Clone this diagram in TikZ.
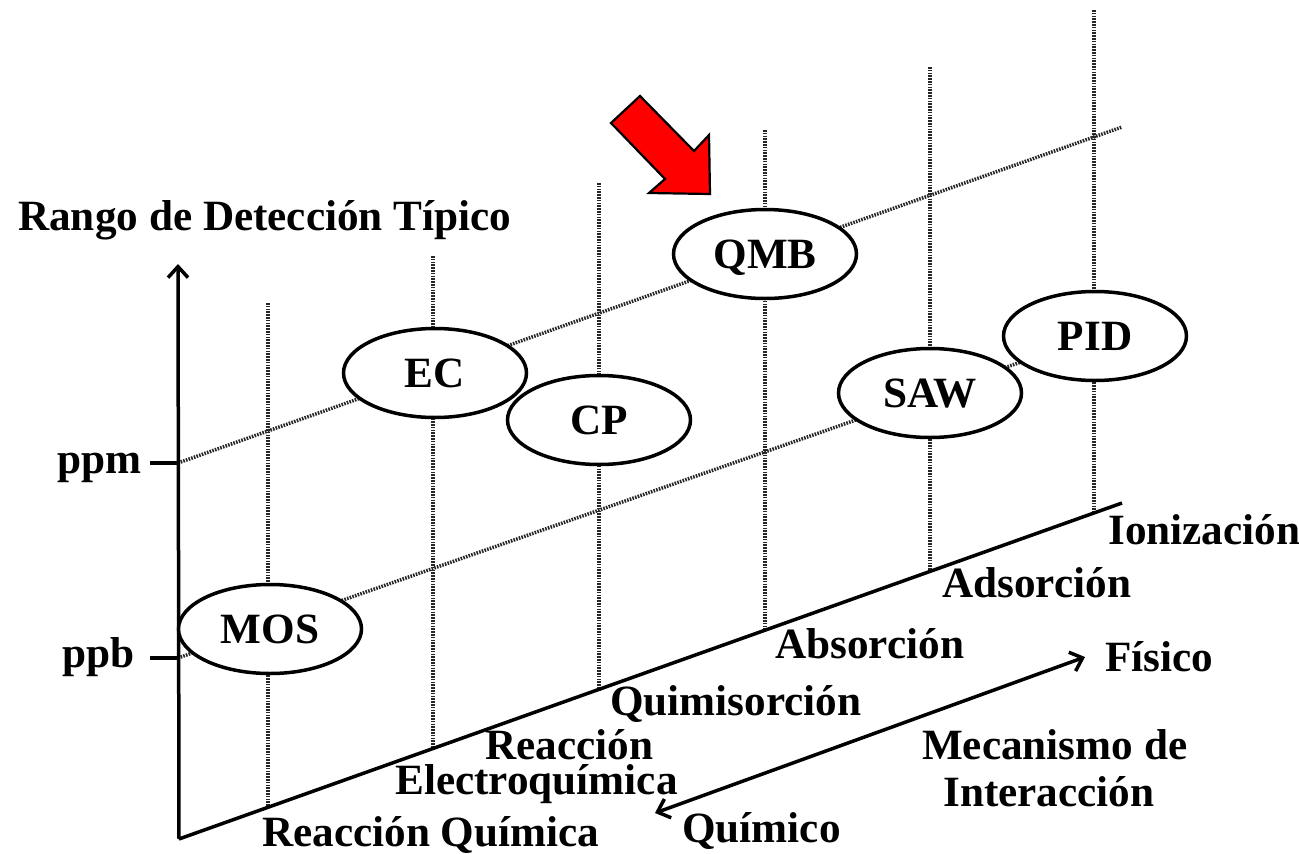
\documentclass[tikz,border=0pt]{standalone}
\usepackage{fontspec}
\setmainfont{Liberation Serif}
\usetikzlibrary{arrows.meta,shapes.geometric}
\begin{document}
\begin{tikzpicture}[x=1pt,y=-1pt,
  lbl/.style={font=\fontsize{43.2}{46}\selectfont\bfseries, inner sep=0pt, anchor=base west},
  sensor/.style={ellipse, draw, line width=3.5pt, fill=white, minimum width=183pt, minimum height=89pt,
    inner sep=0pt, text depth=0pt, font=\fontsize{43.2}{46}\selectfont\bfseries},
  dotln/.style={line width=3.5pt, dash pattern=on 1.6pt off 1.2pt, black!85},
  axisln/.style={line width=3.5pt},
  barb/.style={line width=3.5pt, {Straight Barb[length=11pt,width=20pt]}-{Straight Barb[length=11pt,width=20pt]}}]
\useasboundingbox (0,0) rectangle (1299,854);

% axis coordinates
\coordinate (origin) at (179,839);
\coordinate (ytop) at (178,264);
\coordinate (xend) at (1122,503);
\coordinate (ppmL) at (150,463);
\coordinate (ppmA) at (178,463);
\coordinate (ppbL) at (150,658);
\coordinate (ppbA) at (178,658);
\coordinate (ppmEnd) at (1122,127);

% vertical dotted lines
\foreach \n/\x/\t/\b in {1/268/303/807, 2/433/256/749, 3/599/183/690, 4/765/130/630, 5/930/67/572, 6/1094/10/513}{
  \coordinate (vt\n) at (\x,\t);
  \coordinate (vb\n) at (\x,\b);
  \draw[dotln] (vt\n) -- (vb\n);
}

% dotted level lines
\draw[dotln] (ppmA) -- (ppmEnd);
\coordinate (pidC) at (1095,336);
\draw[dotln] (ppbA) -- (pidC);

% axes
\draw[axisln, -{Straight Barb[length=11pt,width=20pt]}] (origin) -- (ytop);
\draw[axisln] (origin) -- (xend);
\draw[axisln] (ppmL) -- (ppmA);
\draw[axisln] (ppbL) -- (ppbA);

% sensors
\node[sensor] (MOS) at (270,629) {MOS};
\node[sensor] (EC) at (435,373) {EC};
\node[sensor] (CP) at (599,420) {CP};
\node[sensor] (QMB) at (765,254) {QMB};
\node[sensor] (SAW) at (930,393) {SAW};
\node[sensor] (PID) at (pidC) {PID};

% red arrow
\draw[fill=red, line width=2.2pt, line join=miter] (611,123) -- (640,96) -- (694,151) -- (709,135) -- (710,194) -- (649,193) -- (665,179) -- cycle;

% mechanism double arrow
\coordinate (qa) at (655,813);
\coordinate (fa) at (1085,657);
\draw[barb] (qa) -- (fa);

% labels
\node[lbl] (title) at (18,230) {Rango de Detección Típico};
\node[lbl] (ppm) at (57,473) {ppm};
\node[lbl] (ppb) at (62,667) {ppb};
\node[lbl] (ion) at (1108,544) {Ionización};
\node[lbl] (ads) at (942,597) {Adsorción};
\node[lbl] (abs) at (775,658) {Absorción};
\node[lbl] (qui) at (610,715) {Quimisorción};
\node[lbl] (rea) at (485,759) {Reacción};
\node[lbl] (ele) at (395,794) {Electroquímica};
\node[lbl] (rq) at (262,846) {Reacción Química};
\node[lbl] (qm) at (682,842) {Químico};
\node[lbl] (fi) at (1105,671) {Físico};
\node[lbl] (mec) at (922,759) {Mecanismo de};
\node[lbl] (int) at (943,806) {Interacción};
\end{tikzpicture}
\end{document}
